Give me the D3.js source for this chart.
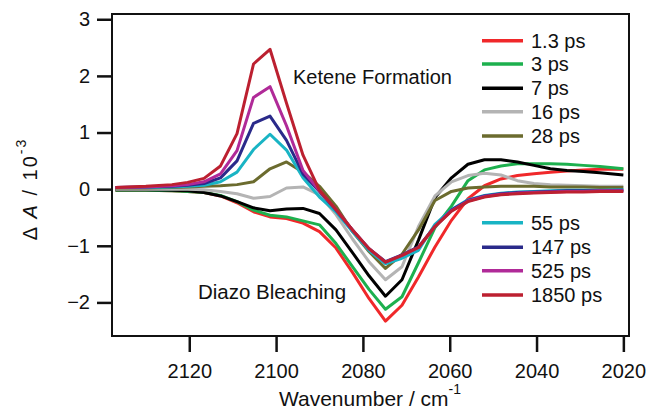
<!DOCTYPE html>
<html>
<head>
<meta charset="utf-8">
<script src="https://cdn.jsdelivr.net/npm/d3@7"></script>
<style>
  body { margin: 0; background: #fff; }
  svg { display: block; font-family: "Liberation Sans", Arial, sans-serif; }
  .tick text { font-size: 20px; fill: #111; }
</style>
</head>
<body>
<svg id="chart" width="647" height="411"></svg>
<script>
// wavenumber grid (cm-1)
const wavenumbers = [2137, 2130, 2124, 2120.4, 2116.6, 2112.8, 2109.0, 2105.2, 2101.4, 2097.6,
  2093.8, 2090.0, 2086.2, 2082.4, 2078.6, 2074.8, 2071.0, 2067.2, 2063.4, 2059.6,
  2055.8, 2052.0, 2048.2, 2044.4, 2040.6, 2036.8, 2033.0, 2029.2, 2025.4, 2020];

// delta A / 10^-3 for each delay
const s1_3ps = [-0.02, -0.02, -0.03, -0.04, -0.06, -0.12, -0.24, -0.40, -0.49, -0.52,
  -0.60, -0.75, -1.04, -1.47, -1.93, -2.33, -2.05, -1.55, -1.02, -0.55,
  -0.17, 0.06, 0.18, 0.24, 0.27, 0.30, 0.32, 0.34, 0.35, 0.35];
const s3ps = [-0.02, -0.02, -0.03, -0.04, -0.06, -0.11, -0.22, -0.37, -0.46, -0.49,
  -0.56, -0.63, -0.96, -1.37, -1.77, -2.12, -1.90, -1.30, -0.68, -0.30,
  0.15, 0.34, 0.41, 0.45, 0.45, 0.45, 0.44, 0.42, 0.40, 0.36];
const s7ps = [-0.01, -0.01, -0.02, -0.03, -0.06, -0.12, -0.22, -0.33, -0.38, -0.35,
  -0.34, -0.43, -0.72, -1.12, -1.53, -1.89, -1.60, -0.90, -0.15, 0.20,
  0.44, 0.52, 0.52, 0.48, 0.42, 0.36, 0.33, 0.31, 0.29, 0.25];
const s16ps = [0.0, 0.0, 0.0, 0.0, -0.01, -0.04, -0.08, -0.16, -0.13, 0.02,
  0.04, -0.10, -0.45, -0.88, -1.28, -1.60, -1.37, -0.66, -0.12, 0.13,
  0.24, 0.28, 0.25, 0.15, 0.10, 0.08, 0.07, 0.06, 0.05, 0.05];
const s28ps = [0.02, 0.02, 0.03, 0.04, 0.05, 0.06, 0.08, 0.13, 0.36, 0.48,
  0.30, 0.05, -0.30, -0.75, -1.10, -1.40, -1.15, -0.72, -0.20, -0.04,
  0.02, 0.04, 0.05, 0.05, 0.05, 0.04, 0.04, 0.04, 0.03, 0.03];
const s55ps = [0.03, 0.03, 0.04, 0.05, 0.07, 0.13, 0.30, 0.70, 0.97, 0.69,
  0.20, -0.14, -0.40, -0.75, -1.08, -1.32, -1.22, -1.08, -0.62, -0.36,
  -0.19, -0.11, -0.07, -0.05, -0.04, -0.03, -0.02, -0.02, -0.02, -0.01];
const s147ps = [0.03, 0.04, 0.05, 0.07, 0.10, 0.20, 0.50, 1.16, 1.29, 0.86,
  0.27, -0.04, -0.37, -0.72, -1.05, -1.28, -1.16, -1.02, -0.66, -0.37,
  -0.20, -0.12, -0.08, -0.06, -0.05, -0.04, -0.03, -0.03, -0.03, -0.02];
const s525ps = [0.03, 0.04, 0.06, 0.08, 0.13, 0.27, 0.68, 1.62, 1.81, 1.12,
  0.33, -0.03, -0.36, -0.72, -1.05, -1.29, -1.17, -1.03, -0.66, -0.38,
  -0.21, -0.13, -0.09, -0.07, -0.06, -0.05, -0.04, -0.04, -0.03, -0.03];
const s1850ps = [0.03, 0.05, 0.08, 0.12, 0.19, 0.41, 0.98, 2.21, 2.47, 1.52,
  0.60, -0.02, -0.36, -0.72, -1.05, -1.29, -1.17, -1.03, -0.66, -0.39,
  -0.22, -0.14, -0.10, -0.08, -0.07, -0.06, -0.05, -0.05, -0.04, -0.04];

const labels = ['1.3 ps', '3 ps', '7 ps', '16 ps', '28 ps', '55 ps', '147 ps', '525 ps', '1850 ps'];
const values = [s1_3ps, s3ps, s7ps, s16ps, s28ps, s55ps, s147ps, s525ps, s1850ps];
const colors = ['#f0282a', '#1db04e', '#000000', '#b4b4b4', '#6b6b2e', '#19b4c4', '#2a2a8a', '#b02a98', '#bc2030'];

const xTicks = [2120, 2100, 2080, 2060, 2040, 2020];
const yTicks = [-2, -1, 0, 1, 2, 3];

const svg = d3.select('#chart');
const mLeft = 112, mRight = 629, mTop = 14, mBottom = 336;

const x = d3.scaleLinear().domain([2137.8, 2018.7]).range([mLeft, mRight]);
const y = d3.scaleLinear().domain([-2.593, 3.093]).range([mBottom, mTop]);

// axes
svg.append('g')
  .attr('transform', `translate(${mLeft},0)`)
  .call(d3.axisLeft(y).tickValues(yTicks).tickSize(15).tickPadding(7).tickFormat(d3.format('d')))
  .call(g => g.select('.domain').remove())
  .call(g => g.selectAll('.tick line').attr('stroke', '#111').attr('stroke-width', 2.5));

svg.append('g')
  .attr('transform', `translate(0,${mBottom})`)
  .call(d3.axisBottom(x).tickValues(xTicks).tickSize(16).tickPadding(12).tickFormat(d3.format('d')))
  .call(g => g.select('.domain').remove())
  .call(g => g.selectAll('.tick line').attr('stroke', '#111').attr('stroke-width', 2.5));

// curves
const line = d3.line().x(d => x(d[0])).y(d => y(d[1]));
svg.append('g')
  .selectAll('path')
  .data(values)
  .join('path')
  .attr('d', v => line(wavenumbers.map((w, i) => [w, v[i]])))
  .attr('fill', 'none')
  .attr('stroke', (_, i) => colors[i])
  .attr('stroke-width', 3)
  .attr('stroke-linejoin', 'round');

// frame
svg.append('rect')
  .attr('x', mLeft).attr('y', mTop)
  .attr('width', mRight - mLeft).attr('height', mBottom - mTop)
  .attr('fill', 'none').attr('stroke', '#111').attr('stroke-width', 2);

// legend
const legendY = [40.7, 64, 88.3, 111.7, 136, 222.7, 247.3, 270.7, 295];
const leg = svg.append('g')
  .selectAll('g')
  .data(labels)
  .join('g')
  .attr('transform', (_, i) => `translate(0,${legendY[i]})`);
leg.append('line')
  .attr('x1', 482).attr('x2', 523)
  .attr('stroke', (_, i) => colors[i]).attr('stroke-width', 3.5);
leg.append('text')
  .attr('x', 531).attr('y', 7)
  .attr('font-size', 20).attr('fill', '#111')
  .text(d => d);

// annotations
svg.append('text').attr('x', 293).attr('y', 84).attr('font-size', 20).attr('fill', '#111')
  .text('Ketene Formation');
svg.append('text').attr('x', 198).attr('y', 299).attr('font-size', 20.5).attr('fill', '#111')
  .text('Diazo Bleaching');

// x-axis label
const xl = svg.append('text')
  .attr('x', 370).attr('y', 406)
  .attr('text-anchor', 'middle').attr('font-size', 21).attr('fill', '#111');
xl.append('tspan').text('Wavenumber / cm');
xl.append('tspan').attr('font-size', 14).attr('dy', -12).text('-1');

// y-axis label
const yl = svg.append('text')
  .attr('transform', 'rotate(-90)')
  .attr('x', -189).attr('y', 37)
  .attr('text-anchor', 'middle').attr('font-size', 20).attr('fill', '#111')
  .attr('letter-spacing', 2);
yl.append('tspan').text('\u0394 ');
yl.append('tspan').attr('font-style', 'italic').text('A');
yl.append('tspan').text(' / 10');
yl.append('tspan').attr('font-size', 14).attr('dy', -11).text('-3');
</script>
</body>
</html>
